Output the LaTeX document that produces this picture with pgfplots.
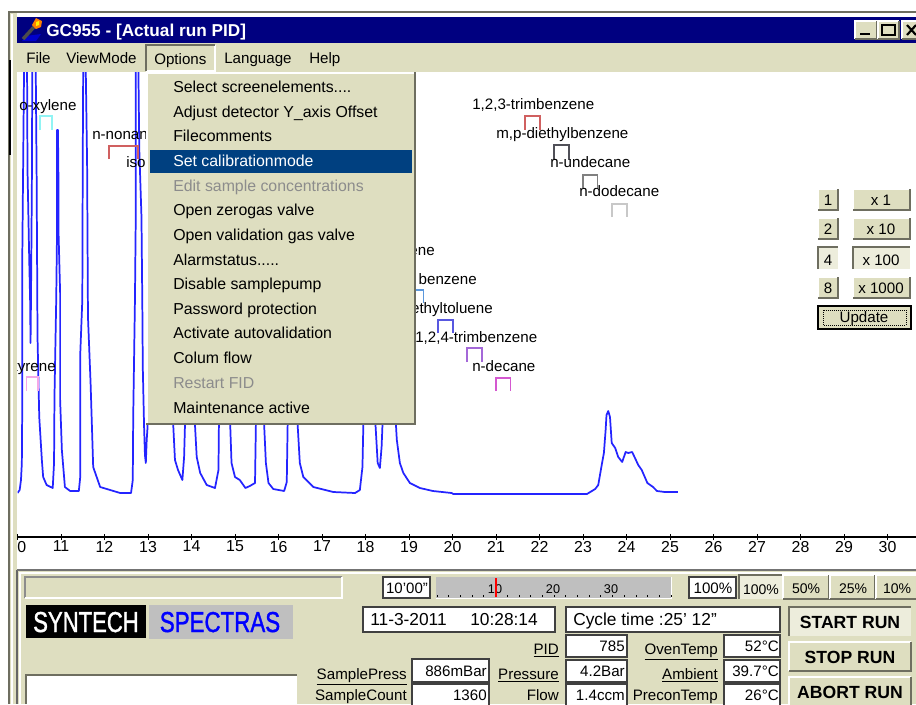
\documentclass[border=0pt]{standalone}
\usepackage{fontspec}
\usepackage{graphicx}
\usepackage{pgfplots}
\pgfplotsset{compat=1.18}
\setmainfont{Liberation Sans}
\newfontfamily\logofont[FakeBold=1.4]{Liberation Sans}

\definecolor{beige}{HTML}{DEDEC0}
\definecolor{edgegray}{HTML}{6E6E60}
\definecolor{navy}{HTML}{000080}
\definecolor{sel}{HTML}{004080}
\definecolor{trace}{HTML}{2424FF}
\definecolor{pressed}{HTML}{EDEDDC}
\definecolor{brCyan}{HTML}{90F4F4}
\definecolor{brRed}{HTML}{D06060}
\definecolor{brPink}{HTML}{F4A8E8}
\definecolor{brDark}{HTML}{505058}
\definecolor{brGray}{HTML}{808080}
\definecolor{brLight}{HTML}{C8C8C8}
\definecolor{brSky}{HTML}{5C98DC}
\definecolor{brBlue}{HTML}{5858E0}
\definecolor{brViolet}{HTML}{A468D8}
\definecolor{brMag}{HTML}{D458D0}

\newcommand\sz[1]{\fontsize{#1}{#1}\selectfont}
% raised button, pressed button, sunken field: x1 y1 x2 y2 in image pixels
\newcommand\raised[4]{%
  \fill[beige] (#1,#2) rectangle (#3,#4);
  \draw[white,line width=1pt] (#1,#4) -- (#1,#2) -- (#3,#2);
  \draw[edgegray,line width=1.4pt] (#1,#4) -- (#3,#4) -- (#3,#2);}
\newcommand\pressedbtn[4]{%
  \fill[pressed] (#1,#2) rectangle (#3,#4);
  \draw[edgegray,line width=1.4pt] (#1,#4) -- (#1,#2) -- (#3,#2);}
\newcommand\field[4]{%
  \fill[white] (#1,#2) rectangle (#3,#4);
  \draw[black!75,line width=.9pt] (#1,#2) rectangle (#3,#4);}
\newcommand\bracket[5]{\addplot[#1,line width=1pt] coordinates {(#2,#4) (#2,#5) (#3,#5) (#3,#4)};}

\begin{document}
\begin{tikzpicture}[x=0.75pt,y=-0.75pt,
  every node/.style={inner sep=0pt,text=black},
  txt/.style={font=\sz{11.35}},
  menutxt/.style={font=\sz{11.9}}]
\useasboundingbox (0,0) rectangle (916,704);
\clip (0,0) rectangle (916,704);
\fill[white] (0,0) rectangle (916,704);
\coordinate (O) at (17.5,537);

\begin{axis}[at={(O)},anchor=south west,scale only axis,
  width=673.875pt,height=348.75pt,
  xmin=10,xmax=30.655,ymin=0,ymax=465,
  axis x line=bottom,axis y line=none,x axis line style={-,black,line width=.9pt},
  xtick={10,11,...,30},ytick=\empty,
  tick style={black,line width=.7pt},major tick length=4.5pt,
  /pgf/number format/assume math mode=true,
  xticklabel style={font=\sz{11.9},yshift=-.5pt}]
\addplot[trace,line width=1.3pt,line join=round] coordinates {
(10.00,44) (10.05,47) (10.08,57) (10.10,74) (10.11,137) (10.11,280) (10.15,465) (10.18,520) (10.22,465)
(10.23,367) (10.27,277) (10.29,237) (10.30,194) (10.31,237) (10.33,350) (10.34,465) (10.38,520) (10.42,465)
(10.44,360) (10.46,200) (10.50,120) (10.56,77) (10.59,60) (10.67,52) (10.81,49) (10.84,74) (10.85,140)
(10.89,237) (10.91,310) (10.91,407) (10.93,407) (10.94,364) (10.94,310) (10.98,244) (10.98,137) (11.02,87)
(11.09,50) (11.21,46) (11.41,46) (11.44,59) (11.44,180) (11.49,237) (11.50,377) (11.51,465) (11.54,520)
(11.57,465) (11.60,374) (11.62,220) (11.68,154) (11.74,70) (11.90,50) (12.36,44) (12.61,44) (12.65,57)
(12.66,120) (12.70,237) (12.72,327) (12.72,465) (12.75,520) (12.78,465) (12.80,387) (12.85,320) (12.87,230)
(12.88,170) (12.91,110) (12.93,82) (12.95,74) (12.97,97) (12.99,110) (13.02,237) (13.05,465) (13.09,520)
(13.54,465) (13.58,112) (13.62,77) (13.69,67) (13.79,57) (13.83,80) (13.85,112) (13.88,465) (13.95,520)
(14.06,465) (14.08,112) (14.12,80) (14.20,64) (14.35,52) (14.54,49) (14.62,67) (14.63,112) (14.67,465)
(14.75,520) (14.86,465) (14.89,112) (14.92,74) (15.00,60) (15.11,57) (15.24,49) (15.34,51) (15.46,54)
(15.48,112) (15.52,465) (15.57,520) (15.64,465) (15.67,112) (15.71,74) (15.77,54) (15.88,48) (16.13,46)
(16.19,55) (16.21,112) (16.25,465) (16.32,520) (16.41,465) (16.44,112) (16.49,74) (16.57,60) (16.80,50)
(17.26,45) (17.76,44) (17.87,47) (17.93,70) (17.95,112) (17.99,465) (18.09,520) (18.20,465) (18.23,112)
(18.28,74) (18.33,69) (18.37,90) (18.39,112) (18.43,465) (18.55,520) (18.67,465) (18.70,112) (18.72,97)
(18.79,74) (18.87,64) (19.02,54) (19.25,49) (19.55,46) (19.98,44) (20.02,43) (23.09,43) (23.28,48)
(23.35,52) (23.43,72) (23.48,84) (23.52,107) (23.54,122) (23.58,126) (23.62,120) (23.66,94) (23.74,89)
(23.81,80) (23.90,75) (23.98,85) (24.04,84) (24.13,85) (24.27,72) (24.35,67) (24.48,54) (24.61,50)
(24.70,46) (24.88,45) (25.18,45)};
\bracket{brCyan}{10.52}{10.79}{407}{421}
\bracket{brRed}{12.10}{12.77}{378}{391}
\bracket{brPink}{10.20}{10.47}{146}{160}
\bracket{brRed}{21.67}{22.01}{407}{421}
\bracket{brDark}{22.33}{22.68}{377}{392}
\bracket{brGray}{23.00}{23.34}{348}{362}
\bracket{brLight}{23.67}{24.01}{320}{333}
\bracket{brSky}{19.02}{19.34}{234}{247}
\bracket{brBlue}{19.67}{20.01}{204}{217}
\bracket{brViolet}{20.33}{20.68}{175}{189}
\bracket{brMag}{21.00}{21.34}{146}{159}
\end{axis}

% compound labels
\begin{scope}[every node/.append style={txt}]
\node[anchor=base west] at (19,110) {o-xylene};
\node[anchor=base west] at (92,139) {n-nonane};
\node[anchor=base west] at (126,167) {iso};
\node[anchor=base east] at (56,371) {styrene};
\node[anchor=base west] at (472,109) {1,2,3-trimbenzene};
\node[anchor=base west] at (496,138) {m,p-diethylbenzene};
\node[anchor=base west] at (550,167) {n-undecane};
\node[anchor=base west] at (579,196) {n-dodecane};
\node[anchor=base east] at (435,255) {ene};
\node[anchor=base east] at (477,284) {benzene};
\node[anchor=base east] at (493,313) {ethyltoluene};
\node[anchor=base west] at (415,342) {1,2,4-trimbenzene};
\node[anchor=base west] at (472,371) {n-decane};
\end{scope}

% scale buttons on the right
\foreach \yy/\n/\m in {189/1/x 1,218/2/x 10,277/8/x 1000}{
  \raised{818}{\yy}{838}{\yy+21}
  \raised{853}{\yy}{910}{\yy+21}
  \node[txt,anchor=base] at (828,\yy+16) {\n};
  \node[txt,anchor=base] at (881,\yy+16) {\m};
}
\pressedbtn{818}{247}{838}{269}
\pressedbtn{853}{247}{910}{269}
\node[txt,anchor=base] at (828,265) {4};
\node[txt,anchor=base] at (881,265) {x 100};
\fill[beige] (818,306) rectangle (911,329);
\draw[black,line width=1.3pt] (818,306) rectangle (911,329);
\draw[black,densely dotted,line width=.5pt] (823,310) rectangle (906,325);
\node[txt,anchor=base] at (864,322) {Update};

% window frame
\fill[white] (0,0) rectangle (9,704);
\fill[beige] (9,11) rectangle (17,704);
\draw[edgegray,line width=1.5pt] (9,704) -- (9,12) -- (916,12);
\draw[black,line width=1.8pt] (10,60) -- (10,155);
\draw[white,line width=.8pt] (12,14) -- (12,704);
\draw[black!60,line width=.9pt] (17,570) -- (17,704);
\fill[navy] (17,17) rectangle (916,43);
\node[anchor=base west,font=\sz{12.9}\bfseries,text=white] at (46,36) {GC955 - [Actual run PID]};
% torch icon
\fill[blue!80!black] (26,36) -- (41,34) -- (36,41) -- (22,41) -- cycle;
\draw[black!70,line width=2.6pt] (23,39) -- (34,27);
\fill[orange] (32,25) -- (36,18) -- (42,21) -- (41,27) -- (36,29) -- cycle;
\fill[yellow] (36,22) -- (39,21) -- (39,25) -- (36,26) -- cycle;
% title bar buttons
\foreach \xa/\xb in {855/877,878/899,902/918}{\raised{\xa}{21}{\xb}{39}}
\draw[black,line width=1.6pt] (860,34) -- (870,34);
\draw[black,line width=1.2pt] (882,25) rectangle (895,35);
\draw[black,line width=1.6pt] (907,25) -- (916,35) (916,25) -- (907,35);

% menu bar
\fill[beige] (17,43) rectangle (916,72);
\draw[white,line width=.8pt] (146,71) -- (215,71) -- (215,45);
\draw[edgegray,line width=.8pt] (146,71) -- (146,45) -- (215,45);
\begin{scope}[every node/.append style={txt,anchor=base west}]
\node at (26,63) {File};
\node at (66,63) {ViewMode};
\node at (154,64) {Options};
\node at (224,63) {Language};
\node at (309,63) {Help};
\end{scope}

% drop-down menu
\fill[beige] (146,72) rectangle (415,424);
\draw[white,line width=.8pt] (147,424) -- (147,73) -- (414,73);
\draw[edgegray,line width=2pt] (146,424) -- (415,424) -- (415,72);
\fill[sel] (150,150) rectangle (412,173);
\begin{scope}[every node/.append style={menutxt,anchor=base west}]
\node at (173,92) {Select screenelements....};
\node at (173,117) {Adjust detector Y\_axis Offset};
\node at (173,141) {Filecomments};
\node[text=white] at (173,166) {Set calibrationmode};
\node[text=black!45] at (173,191) {Edit sample concentrations};
\node at (173,215) {Open zerogas valve};
\node at (173,240) {Open validation gas valve};
\node at (173,265) {Alarmstatus.....};
\node at (173,289) {Disable samplepump};
\node at (173,314) {Password protection};
\node at (173,338) {Activate autovalidation};
\node at (173,363) {Colum flow};
\node[text=black!45] at (173,388) {Restart FID};
\node at (173,413) {Maintenance active};
\end{scope}

% bottom panel
\fill[beige] (18,570) rectangle (916,704);
\draw[black!55,line width=1.4pt] (17,570) -- (916,570);
\draw[white,line width=.9pt] (20,704) -- (20,573) -- (916,573);
\draw[black!45,line width=.8pt] (25,598) -- (25,577) -- (342,577);
\draw[white,line width=.8pt] (25,598) -- (342,598) -- (342,577);
\field{383}{577}{430}{598}
\node[font=\sz{11.25},anchor=base] at (407,593) {10'00"};
\fill[black!25] (436,577) rectangle (671,598);
\draw[white,line width=.7pt] (436,598) -- (671,598) -- (671,577);
\foreach \i in {0,...,20}{\draw[black,line width=.6pt] (437+11.7*\i,597) -- (437+11.7*\i,595);}
\node[font=\sz{9.5},anchor=base] at (495,593) {10};
\node[font=\sz{9.5},anchor=base] at (553,593) {20};
\node[font=\sz{9.5},anchor=base] at (611,593) {30};
\draw[red,line width=1pt] (496,578) -- (496,597);
\field{689}{577}{736}{598}
\node[txt,anchor=base] at (713,593) {100\%};
\pressedbtn{739}{575}{782}{599}
\raised{783}{575}{829}{599}
\raised{830}{575}{875}{599}
\raised{876}{575}{918}{599}
\node[font=\sz{10.5},anchor=base] at (761,594) {100\%};
\node[font=\sz{10.5},anchor=base] at (806,593) {50\%};
\node[font=\sz{10.5},anchor=base] at (853,593) {25\%};
\node[font=\sz{10.5},anchor=base] at (897,593) {10\%};

% logo
\fill[black] (26,605) rectangle (146,638);
\fill[black!25] (149,605) rectangle (293,639);
\node[anchor=base,text=white] at (86,632) {\logofont\sz{18}\scalebox{.92}[1.2]{SYNTECH}};
\node[anchor=base,text=blue] at (220,632) {\logofont\sz{18}\scalebox{.93}[1.2]{SPECTRAS}};
\fill[white] (26,675) rectangle (297,704);
\draw[edgegray,line width=1pt] (26,704) -- (26,675) -- (297,675);

% date and cycle time
\field{363}{607}{555}{632}
\node[font=\sz{13},anchor=base west] at (370,625) {11-3-2011};
\node[font=\sz{13},anchor=base west] at (470,625) {10:28:14};
\field{566}{607}{780}{632}
\node[font=\sz{13},anchor=base west] at (573,625) {Cycle time :25' 12"};

% read-outs
\foreach \ya/\yb in {635/657,660/682,684/708}{\field{566}{\ya}{627}{\yb}\field{724}{\ya}{780}{\yb}}
\foreach \ya/\yb in {659/682,684/708}{\field{412}{\ya}{489}{\yb}}
\begin{scope}[every node/.append style={txt}]
\node[anchor=base east] at (625,651) {785};
\node[anchor=base east] at (625,676) {4.2Bar};
\node[anchor=base east] at (625,700) {1.4ccm};
\node[anchor=base east] at (779,651) {52°C};
\node[anchor=base east] at (779,676) {39.7°C};
\node[anchor=base east] at (779,700) {26°C};
\node[anchor=base east] at (487,676) {886mBar};
\node[anchor=base east] at (487,700) {1360};
\node[anchor=base east] at (559,654) {\underline{PID}};
\node[anchor=base east] at (559,679) {\underline{Pressure}};
\node[anchor=base east] at (559,700) {Flow};
\node[anchor=base east] at (718,654) {\underline{OvenTemp}};
\node[anchor=base east] at (718,679) {\underline{Ambient}};
\node[anchor=base east] at (718,700) {PreconTemp};
\node[anchor=base east] at (407,679) {\underline{SamplePress}};
\node[anchor=base east] at (407,700) {SampleCount};
\end{scope}

% run buttons
\pressedbtn{789}{607}{911}{636}
\raised{789}{642}{911}{671}
\raised{789}{677}{911}{710}
\node[font=\sz{13.2}\bfseries,anchor=base] at (850,628) {START RUN};
\node[font=\sz{13.2}\bfseries,anchor=base] at (850,663) {STOP RUN};
\node[font=\sz{13.2}\bfseries,anchor=base] at (850,698) {ABORT RUN};
\end{tikzpicture}
\end{document}
